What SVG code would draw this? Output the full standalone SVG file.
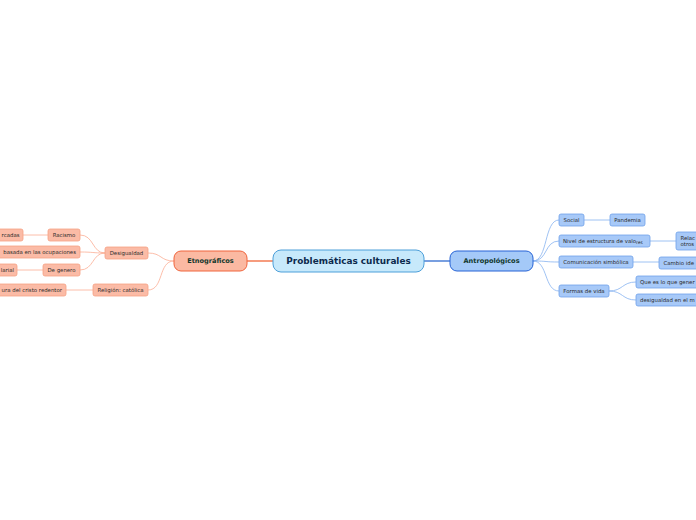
<svg xmlns="http://www.w3.org/2000/svg" width="696" height="520" viewBox="0 0 696 520">
<style>
text{font-family:"DejaVu Sans","Liberation Sans",sans-serif;}
.root rect{fill:#c7e9fb;stroke:#4d9fd9;stroke-width:1}
.root text{font-size:8.9px;font-weight:bold;fill:#0c2a4d;text-anchor:middle}
.et rect{fill:#fbb9a2;stroke:#f0643c;stroke-width:1}
.an rect{fill:#a4c9f8;stroke:#2663d6;stroke-width:1}
.main text{font-size:6.6px;font-weight:bold;fill:#12382c;text-anchor:middle}
.l rect{fill:#fbbba6;stroke:#f6a184;stroke-width:0.8}
.r rect{fill:#a7c9f8;stroke:#70a1ea;stroke-width:0.8}
.s text{font-size:5.4px;fill:#2b2b2b}
.m{text-anchor:middle}
.e{text-anchor:end}
.st{text-anchor:start}
#connectors path{fill:none}
.cl{stroke:#fbad94;stroke-width:0.8}
.cr{stroke:#86b2f0;stroke-width:0.8}
</style>
<rect width="696" height="520" fill="#ffffff"/>
<g id="connectors">
<path d="M247 261 H273" stroke="#f05a28" stroke-width="1.2"/>
<path d="M424 261 H450" stroke="#1f5fcc" stroke-width="1.2"/>
<path class="cl" d="M174 261 C160 261 162 253 148 253"/>
<path class="cl" d="M174 261 C158 261 164 290 148 290"/>
<path class="cl" d="M105 253 C92 253 94 235 80 235"/>
<path class="cl" d="M105 253 C92 253 94 252 80 252"/>
<path class="cl" d="M105 253 C92 253 94 270 80 270"/>
<path class="cl" d="M48 235 H23"/>
<path class="cl" d="M43 270 H17"/>
<path class="cl" d="M93 290 H66"/>
<path class="cr" d="M533 261 C548 261 544 220 559 220"/>
<path class="cr" d="M533 261 C548 261 544 241 559 241"/>
<path class="cr" d="M533 261 C548 261 544 262 559 262"/>
<path class="cr" d="M533 261 C548 261 544 291 559 291"/>
<path class="cr" d="M584 220 H610"/>
<path class="cr" d="M650 241 H676"/>
<path class="cr" d="M633 262 H659"/>
<path class="cr" d="M609 291 C623 291 622 282 636 282"/>
<path class="cr" d="M609 291 C623 291 622 300 636 300"/>
</g>
<g id="root" class="root"><rect x="273" y="250" width="151" height="22" rx="8"/><text x="348.5" y="264.2">Problemáticas culturales</text></g>
<g id="etnograficos" class="main et"><rect x="174" y="251" width="73" height="20" rx="7"/><text x="210.5" y="263.4">Etnográficos</text></g>
<g id="antropologicos" class="main an"><rect x="450" y="251" width="83" height="20" rx="7"/><text x="491.5" y="263.4">Antropológicos</text></g>
<g id="desigualdad" class="s l"><rect x="105" y="247" width="43" height="12" rx="2"/><text class="m" x="126.5" y="255">Desigualdad</text></g>
<g id="religion" class="s l"><rect x="93" y="284" width="55" height="12" rx="2"/><text class="m" x="120.5" y="292">Religión: católica</text></g>
<g id="racismo" class="s l"><rect x="48" y="229" width="32" height="12" rx="2"/><text class="m" x="64" y="237">Racismo</text></g>
<g id="marcadas" class="s l"><rect x="-20" y="229" width="43" height="12" rx="2"/><text class="e" x="19.5" y="237">rcadas</text></g>
<g id="ocupaciones" class="s l"><rect x="-20" y="246" width="100" height="12" rx="2"/><text class="e" x="76" y="254">basada en las ocupaciones</text></g>
<g id="degenero" class="s l"><rect x="43" y="264" width="37" height="12" rx="2"/><text class="m" x="61.5" y="272">De genero</text></g>
<g id="salarial" class="s l"><rect x="-20" y="264" width="37" height="12" rx="2"/><text class="e" x="14" y="272">larial</text></g>
<g id="cristo" class="s l"><rect x="-20" y="284" width="86" height="12" rx="2"/><text class="e" x="62" y="292">ura del cristo redentor</text></g>
<g id="social" class="s r"><rect x="559" y="214" width="25" height="12" rx="2"/><text class="m" x="571.5" y="222">Social</text></g>
<g id="pandemia" class="s r"><rect x="610" y="214" width="35" height="12" rx="2"/><text class="m" x="627.5" y="222">Pandemia</text></g>
<g id="nivel" class="s r"><rect x="559" y="235" width="91" height="12" rx="2"/><text class="st" x="563" y="242.6">Nivel de estructura de valo<tspan font-size="4.4" dy="1.4">res</tspan></text></g>
<g id="relac" class="s r"><rect x="676" y="232" width="40" height="18" rx="2"/><text class="st" x="680.5" y="239.6">Relac</text><text class="st" x="680.5" y="246.2">otros</text></g>
<g id="comunicacion" class="s r"><rect x="559" y="256" width="74" height="12" rx="2"/><text class="m" x="596" y="264">Comunicación simbólica</text></g>
<g id="cambio" class="s r"><rect x="659" y="257" width="50" height="12" rx="2"/><text class="st" x="663.5" y="265">Cambio ide</text></g>
<g id="formas" class="s r"><rect x="559" y="285" width="50" height="12" rx="2"/><text class="m" x="584" y="293">Formas de vida</text></g>
<g id="que" class="s r"><rect x="636" y="276" width="80" height="12" rx="2"/><text class="st" x="640" y="284">Que es lo que gener</text></g>
<g id="desig2" class="s r"><rect x="636" y="294" width="80" height="12" rx="2"/><text class="st" x="640" y="302">desigualdad en el m</text></g>
</svg>
